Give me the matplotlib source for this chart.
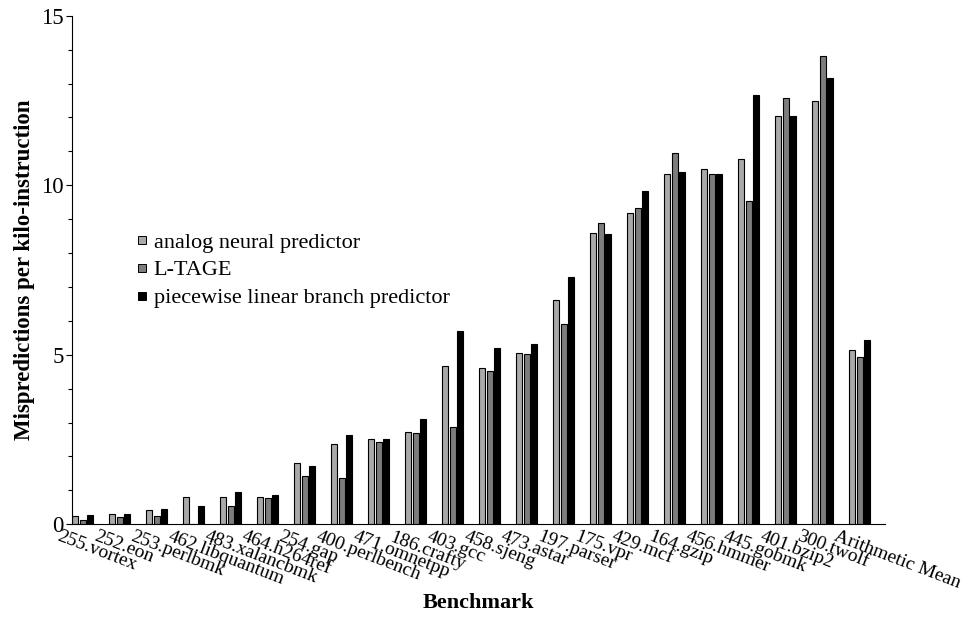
import numpy as np
import matplotlib
matplotlib.use("Agg")
import matplotlib.pyplot as plt
from matplotlib.lines import Line2D
from matplotlib.transforms import ScaledTranslation

plt.rcParams['font.family'] = ['Liberation Serif', 'DejaVu Serif']

# benchmark names and mispredictions per kilo-instruction
benchmarks = ["255.vortex", "252.eon", "253.perlbmk", "462.libquantum", "483.xalancbmk",
              "464.h264ref", "254.gap", "400.perlbench", "471.omnetpp", "186.crafty",
              "403.gcc", "458.sjeng", "473.astar", "197.parser", "175.vpr", "429.mcf",
              "164.gzip", "456.hmmer", "445.gobmk", "401.bzip2", "300.twolf",
              "Arithmetic Mean"]
analog = [0.24, 0.30, 0.42, 0.82, 0.80, 0.80, 1.80, 2.36, 2.52, 2.72, 4.66, 4.60,
          5.06, 6.62, 8.58, 9.18, 10.33, 10.47, 10.77, 12.05, 12.47, 5.13]
ltage = [0.12, 0.21, 0.24, 0.0, 0.53, 0.77, 1.42, 1.37, 2.43, 2.68, 2.86, 4.51,
         5.01, 5.90, 8.88, 9.33, 10.94, 10.34, 9.53, 12.56, 13.81, 4.93]
piecewise = [0.28, 0.30, 0.45, 0.54, 0.94, 0.87, 1.72, 2.62, 2.53, 3.12, 5.70, 5.19,
             5.33, 7.29, 8.56, 9.82, 10.39, 10.34, 12.65, 12.04, 13.15, 5.43]

series = [("analog neural predictor", analog, "#a9a9a9"),
          ("L-TAGE", ltage, "#7d7d7d"),
          ("piecewise linear branch predictor", piecewise, "#000000")]

fig = plt.figure(figsize=(9.66, 6.21), dpi=100)
ax = fig.add_axes([0.0745, 0.1557, 0.8415, 0.819])

x = np.arange(len(benchmarks))
width = 0.165
for i, (name, vals, col) in enumerate(series):
    ax.bar(x + (i - 1) * 0.2, vals, width, color=col, edgecolor="black", linewidth=0.8)

ax.set_xlim(-0.29, 21.68)
ax.set_ylim(0, 15)
ax.spines['top'].set_visible(False)
ax.spines['right'].set_visible(False)
ax.spines['left'].set_linewidth(0.8)
ax.spines['bottom'].set_linewidth(0.8)

ax.set_yticks([0, 5, 10, 15])
ax.set_yticks(np.arange(0, 16, 1), minor=True)
ax.tick_params(axis='y', which='major', length=4, width=0.8, labelsize=16.5, pad=2)
ax.tick_params(axis='y', which='minor', length=3, width=0.8)

ax.set_xticks(x)
ax.set_xticklabels([])
ax.tick_params(axis='x', length=0)
offset = ScaledTranslation(-22 / 100, -4 / 100, fig.dpi_scale_trans)
for xi, name in zip(x, benchmarks):
    ax.text(xi, 0, name, transform=ax.get_xaxis_transform() + offset,
            rotation=-21, rotation_mode='anchor', ha='left', va='top', fontsize=14)

ax.set_xlabel("Benchmark", fontsize=16, fontweight='bold', labelpad=46)
ax.set_ylabel("Mispredictions per kilo-instruction", fontsize=16.5, fontweight='bold', labelpad=4)

handles = [Line2D([], [], marker='s', ls='', mfc=col, mec='black', mew=0.7, ms=6)
           for name, vals, col in series]
ax.legend(handles, [s[0] for s in series], loc='upper left', frameon=False,
          bbox_to_anchor=(136 / 966, 1 - 232 / 621), bbox_transform=fig.transFigure,
          fontsize=16, handlelength=0.5, handletextpad=0.3, labelspacing=0.33,
          borderpad=0, borderaxespad=0)

fig.savefig("out.png", dpi=100)
